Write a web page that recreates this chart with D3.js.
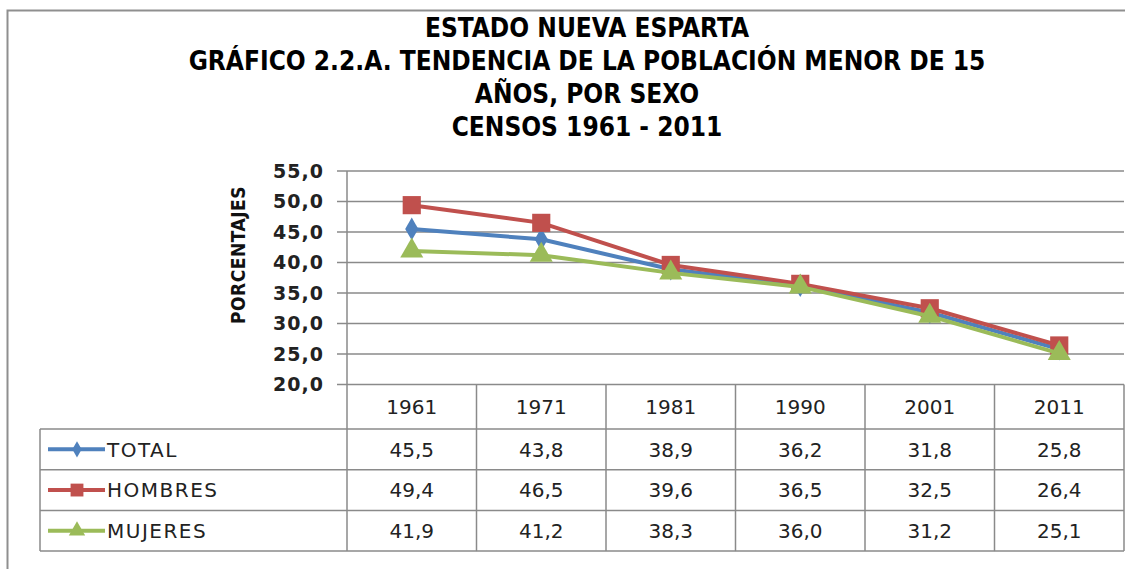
<!DOCTYPE html>
<html>
<head>
<meta charset="utf-8">
<script src="https://cdn.jsdelivr.net/npm/d3@7"></script>
<style>
  body { margin: 0; background: #fff; }
  svg { display: block; }
</style>
</head>
<body>
<div id="chart"></div>
<script>
// data
var years = ["1961", "1971", "1981", "1990", "2001", "2011"];
var seriesNames = ["TOTAL", "HOMBRES", "MUJERES"];
var totalVals = [45.5, 43.8, 38.9, 36.2, 31.8, 25.8];
var hombresVals = [49.4, 46.5, 39.6, 36.5, 32.5, 26.4];
var mujeresVals = [41.9, 41.2, 38.3, 36.0, 31.2, 25.1];
var yTicks = [20, 25, 30, 35, 40, 45, 50, 55];
var titleLines = ["ESTADO NUEVA ESPARTA",
  "GRÁFICO 2.2.A. TENDENCIA DE LA POBLACIÓN MENOR DE 15",
  "AÑOS, POR SEXO",
  "CENSOS 1961 - 2011"];

var series = [
  { name: seriesNames[0], values: totalVals, color: "#4F81BD", shape: d3.symbolDiamond },
  { name: seriesNames[1], values: hombresVals, color: "#C0504D", shape: d3.symbolSquare },
  { name: seriesNames[2], values: mujeresVals, color: "#9BBB59", shape: d3.symbolTriangle }
];

var W = 1125, H = 569;
var svg = d3.select("#chart").append("svg")
    .attr("width", W)
    .attr("height", H);

var gridCol = "#8a8a8a";

// outer frame
svg.append("path")
    .attr("d", "M7.5," + H + "V10.5H" + W)
    .attr("fill", "none")
    .attr("stroke", "#8f8f8f")
    .attr("stroke-width", 2);

// title
var title = svg.append("text")
    .attr("text-anchor", "middle")
    .attr("font-family", "'DejaVu Sans Condensed', sans-serif")
    .attr("font-weight", "bold")
    .attr("font-size", 26)
    .attr("fill", "#000");
title.selectAll("tspan")
    .data(titleLines)
    .enter().append("tspan")
    .attr("x", 587)
    .attr("y", function (d, i) { return 37 + i * 33; })
    .text(function (d) { return d; });

// scales
var left = 347, right = 1124;
var x = d3.scaleBand().domain(years).range([left, right]);
var y = d3.scaleLinear().domain([20, 55]).range([384.5, 171]);

// gridlines
svg.append("g")
    .selectAll("line")
    .data(yTicks)
    .enter().append("line")
    .attr("x1", 337)
    .attr("x2", right)
    .attr("y1", function (d) { return y(d); })
    .attr("y2", function (d) { return y(d); })
    .attr("stroke", gridCol)
    .attr("stroke-width", 1.5);

// y axis line
svg.append("line")
    .attr("x1", left).attr("x2", left)
    .attr("y1", y(55)).attr("y2", y(20))
    .attr("stroke", gridCol)
    .attr("stroke-width", 1.5);

// y tick labels
svg.append("g")
    .selectAll("text")
    .data(yTicks)
    .enter().append("text")
    .attr("x", 324)
    .attr("y", function (d) { return y(d); })
    .attr("dy", "0.36em")
    .attr("text-anchor", "end")
    .attr("font-family", "'DejaVu Sans', sans-serif")
    .attr("font-weight", "bold")
    .attr("font-size", 19)
    .attr("letter-spacing", 1)
    .attr("fill", "#222")
    .text(function (d) { return d.toFixed(1).replace(".", ","); });

// y axis title
svg.append("text")
    .attr("transform", "translate(245,255) rotate(-90)")
    .attr("text-anchor", "middle")
    .attr("font-family", "'DejaVu Sans Condensed', 'DejaVu Sans', sans-serif")
    .attr("font-weight", "bold")
    .attr("font-size", 19)
    .attr("letter-spacing", 0.5)
    .attr("fill", "#111")
    .text("PORCENTAJES");

// lines and markers
var line = d3.line()
    .x(function (d, i) { return x(years[i]) + x.bandwidth() / 2; })
    .y(function (d) { return y(d); });

var markerSize = { "TOTAL": 150, "HOMBRES": 330, "MUJERES": 230 };

series.forEach(function (s) {
  svg.append("path")
      .datum(s.values)
      .attr("d", line)
      .attr("fill", "none")
      .attr("stroke", s.color)
      .attr("stroke-width", 4);
  svg.append("g")
      .selectAll("path")
      .data(s.values)
      .enter().append("path")
      .attr("transform", function (d, i) {
        return "translate(" + (x(years[i]) + x.bandwidth() / 2) + "," + y(d) + ")";
      })
      .attr("d", d3.symbol().type(s.shape).size(markerSize[s.name]))
      .attr("fill", s.color);
});

// data table
var rowTop = 384.5, headBottom = 429, rowH = 40.7;
var tableBottom = headBottom + rowH * 3;
var tbl = svg.append("g")
    .attr("stroke", gridCol)
    .attr("stroke-width", 1.5);

// column lines
var colEdges = years.map(function (d) { return x(d); }).concat([right]);
tbl.selectAll("line.col")
    .data(colEdges)
    .enter().append("line")
    .attr("class", "col")
    .attr("x1", function (d) { return d; })
    .attr("x2", function (d) { return d; })
    .attr("y1", rowTop)
    .attr("y2", tableBottom);

// legend column left edge
tbl.append("line")
    .attr("x1", 40).attr("x2", 40)
    .attr("y1", headBottom).attr("y2", tableBottom);

// row lines
tbl.selectAll("line.row")
    .data([0, 1, 2, 3])
    .enter().append("line")
    .attr("class", "row")
    .attr("x1", 40)
    .attr("x2", right)
    .attr("y1", function (d) { return headBottom + d * rowH; })
    .attr("y2", function (d) { return headBottom + d * rowH; });

// header years
svg.append("g")
    .selectAll("text")
    .data(years)
    .enter().append("text")
    .attr("x", function (d) { return x(d) + x.bandwidth() / 2; })
    .attr("y", (rowTop + headBottom) / 2)
    .attr("dy", "0.36em")
    .attr("text-anchor", "middle")
    .attr("font-family", "'DejaVu Sans', sans-serif")
    .attr("font-size", 20)
    .attr("fill", "#222")
    .text(function (d) { return d; });

// value rows + legend keys
series.forEach(function (s, r) {
  var cy = headBottom + rowH * r + rowH / 2;
  var g = svg.append("g");
  g.append("line")
      .attr("x1", 48).attr("x2", 105)
      .attr("y1", cy).attr("y2", cy)
      .attr("stroke", s.color)
      .attr("stroke-width", 4);
  g.append("path")
      .attr("transform", "translate(77," + cy + ")")
      .attr("d", d3.symbol().type(s.shape).size(markerSize[s.name] * 0.5))
      .attr("fill", s.color);
  g.append("text")
      .attr("x", 107)
      .attr("y", cy)
      .attr("dy", "0.36em")
      .attr("font-family", "'DejaVu Sans', sans-serif")
      .attr("font-size", 20)
      .attr("letter-spacing", 1.5)
      .attr("fill", "#222")
      .text(s.name);
  g.selectAll("text.val")
      .data(s.values)
      .enter().append("text")
      .attr("class", "val")
      .attr("x", function (d, i) { return x(years[i]) + x.bandwidth() / 2; })
      .attr("y", cy)
      .attr("dy", "0.36em")
      .attr("text-anchor", "middle")
      .attr("font-family", "'DejaVu Sans', sans-serif")
      .attr("font-size", 20)
      .attr("fill", "#222")
      .text(function (d) { return d.toFixed(1).replace(".", ","); });
});
</script>
</body>
</html>
